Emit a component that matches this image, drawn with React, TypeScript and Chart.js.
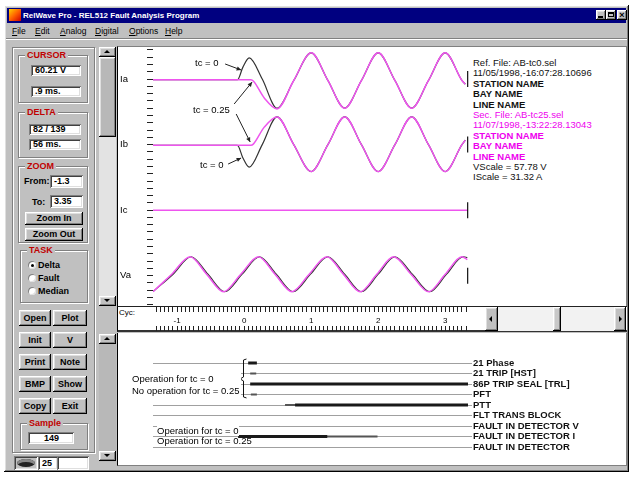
import React, { useEffect, useRef } from "react";
import { Chart, registerables } from "chart.js";

Chart.register(...registerables);

const FONT = '"Liberation Sans", Arial, sans-serif';

// ---------- time axis (cycles) ----------
const cycleMin = -1.36;
const cycleMax = 3.34;
const rulerStep = 0.0625;

// ---------- analog channels ----------
const channelNames = ["Ia", "Ib", "Ic", "Va"];
const channelLevels = [31, 22, 13, 4];
const analogMin = -0.3;
const analogMax = 35.4;

// Ia, reference file (tc = 0)
const iaRefT = [-1.36, -0.1, -0.02, 0.075, 0.27, 0.49, 0.74, 1.0, 1.25, 1.5, 1.75, 2.0, 2.25, 2.5, 2.75, 3.0, 3.25, 3.3];
const iaRefV = [30.9, 30.9, 32.6, 33.9, 31.0, 27.0, 30.8, 34.6, 30.8, 27.0, 30.8, 34.6, 30.8, 27.0, 30.8, 34.6, 30.8, 30.3];
// Ia, secondary file (tc = 0.25)
const iaSecT = [-1.36, 0.1, 0.14, 0.3, 0.49, 0.74, 1.0, 1.25, 1.5, 1.75, 2.0, 2.25, 2.5, 2.75, 3.0, 3.25, 3.3];
const iaSecV = [30.9, 30.9, 30.7, 28.4, 26.9, 30.8, 34.6, 30.8, 27.0, 30.8, 34.6, 30.8, 27.0, 30.8, 34.6, 30.8, 30.3];

// Ib
const ibRefT = [-1.36, -0.1, -0.02, 0.075, 0.27, 0.49, 0.74, 1.0, 1.25, 1.5, 1.75, 2.0, 2.25, 2.5, 2.75, 3.0, 3.25, 3.3];
const ibRefV = [21.9, 21.9, 20.2, 18.9, 22.0, 25.8, 22.0, 18.3, 22.0, 25.8, 22.0, 18.3, 22.0, 25.8, 22.0, 18.3, 22.0, 22.6];
const ibSecT = [-1.36, 0.1, 0.14, 0.3, 0.49, 0.74, 1.0, 1.25, 1.5, 1.75, 2.0, 2.25, 2.5, 2.75, 3.0, 3.25, 3.3];
const ibSecV = [21.9, 21.9, 22.1, 24.4, 25.8, 22.0, 18.3, 22.0, 25.8, 22.0, 18.3, 22.0, 25.8, 22.0, 18.3, 22.0, 22.6];

// Ic
const icT = [-1.36, 3.33];
const icV = [13.0, 13.0];

// Va
const vaRefT = [-1.36, -1.06, -0.79, -0.54, -0.29, -0.03, 0.23, 0.48, 0.73, 0.99, 1.25, 1.5, 1.75, 2.0, 2.25, 2.51, 2.77, 3.02, 3.27, 3.33];
const vaRefV = [1.8, 4.2, 6.6, 4.2, 1.8, 4.2, 6.6, 4.2, 1.8, 4.2, 6.6, 4.2, 1.8, 4.2, 6.6, 4.2, 1.8, 4.2, 6.6, 6.5];
const vaSecT = [-1.36, -1.08, -0.806, -0.56, -0.309, -0.05, 0.213, 0.46, 0.712, 0.97, 1.234, 1.48, 1.731, 1.98, 2.228, 2.49, 2.751, 3.0, 3.249, 3.33];
const vaSecV = [1.8, 4.2, 6.6, 4.2, 1.8, 4.2, 6.6, 4.2, 1.8, 4.2, 6.6, 4.2, 1.8, 4.2, 6.6, 4.2, 1.8, 4.2, 6.6, 6.2];

// end-of-record markers
const endMarkerT = [3.335, 3.335, 3.335, 3.335];

// annotation arrows (tail -> head) on the analog plot
const arrowTailT = [-0.284, -0.149, -0.119, -0.239];
const arrowTailV = [33.07, 27.57, 26.2, 19.33];
const arrowHeadT = [-0.045, 0.119, 0.09, -0.045];
const arrowHeadV = [32.24, 30.59, 22.36, 20.16];

// ---------- digital channels ----------
const digitalNames = [
  "21 Phase",
  "21 TRIP [HST]",
  "86P TRIP SEAL [TRL]",
  "PFT",
  "PTT",
  "FLT TRANS BLOCK",
  "FAULT IN DETECTOR V",
  "FAULT IN DETECTOR I",
  "FAULT IN DETECTOR",
];
const digitalLevels = [9, 8, 7, 6, 5, 4, 3, 2, 1];
const digitalMin = -0.714;
const digitalMax = 12.048;

// asserted intervals (thick trace)
const thickChannel = [0, 2, 4, 7];
const thickStart = [0.06, 0.09, 0.76, -0.09];
const thickEnd = [0.19, 3.34, 3.34, 1.24];
// asserted intervals (thin trace)
const thinChannel = [1, 3, 4, 7];
const thinStart = [0.09, 0.1, 0.61, -0.015];
const thinEnd = [0.18, 0.19, 3.34, 1.99];

// brace on digital plot
const braceT = [-0.01];
const braceTopV = [9.38];
const braceBottomV = [5.67];
const braceTipT = [-0.06];
const braceTipV = [7.48];

const PINK = "#ee55ee";
const DARK = "#333333";

const pts = (t: number[], v: number[]) => t.map((x, i) => ({ x, y: v[i] }));
const isWhole = (v: number) => Math.abs(v - Math.round(v)) < 1e-6;

const noPad = (s: any) => {
  s.paddingTop = 0;
  s.paddingBottom = 0;
  s.paddingLeft = 0;
  s.paddingRight = 0;
};

const arrowPlugin = {
  id: "arrowNotes",
  afterDatasetsDraw(chart: any) {
    const { ctx } = chart;
    const xs = chart.scales.x;
    const ys = chart.scales.y;
    ctx.save();
    ctx.strokeStyle = "#222";
    ctx.fillStyle = "#222";
    ctx.lineWidth = 1;
    for (let i = 0; i < arrowTailT.length; i++) {
      const x0 = xs.getPixelForValue(arrowTailT[i]);
      const y0 = ys.getPixelForValue(arrowTailV[i]);
      const x1 = xs.getPixelForValue(arrowHeadT[i]);
      const y1 = ys.getPixelForValue(arrowHeadV[i]);
      ctx.beginPath();
      ctx.moveTo(x0, y0);
      ctx.lineTo(x1, y1);
      ctx.stroke();
      const a = Math.atan2(y1 - y0, x1 - x0);
      const L = 5;
      ctx.beginPath();
      ctx.moveTo(x1, y1);
      ctx.lineTo(x1 - L * Math.cos(a - 0.45), y1 - L * Math.sin(a - 0.45));
      ctx.lineTo(x1 - L * Math.cos(a + 0.45), y1 - L * Math.sin(a + 0.45));
      ctx.closePath();
      ctx.fill();
    }
    ctx.restore();
  },
};

const bracePlugin = {
  id: "braceNote",
  afterDatasetsDraw(chart: any) {
    const { ctx } = chart;
    const xs = chart.scales.x;
    const ys = chart.scales.y;
    ctx.save();
    ctx.strokeStyle = "#111";
    ctx.lineWidth = 1;
    for (let i = 0; i < braceT.length; i++) {
      const x = Math.round(xs.getPixelForValue(braceT[i])) + 0.5;
      const yt = ys.getPixelForValue(braceTopV[i]);
      const yb = ys.getPixelForValue(braceBottomV[i]);
      const xt = xs.getPixelForValue(braceTipT[i]);
      const ym = ys.getPixelForValue(braceTipV[i]);
      ctx.beginPath();
      ctx.moveTo(x + 3, yt);
      ctx.lineTo(x, yt + 1);
      ctx.lineTo(x, ym - 2);
      ctx.lineTo(xt, ym);
      ctx.lineTo(x, ym + 2);
      ctx.lineTo(x, yb - 1);
      ctx.lineTo(x + 3, yb);
      ctx.stroke();
    }
    ctx.restore();
  },
};

const RAISED = "inset -1px -1px #000, inset 1px 1px #fff, inset -2px -2px #808080, inset 2px 2px #dfdfdf";
const SUNKEN = "inset 1px 1px #808080, inset -1px -1px #fff, inset 2px 2px #404040, inset -2px -2px #dfdfdf";

function Txt(props: any) {
  const { x, y, s = 9, w = 400, c = "#000", bg, children, style } = props;
  return (
    <div
      style={{
        position: "absolute",
        left: x,
        top: y - s * 0.49,
        fontSize: s,
        lineHeight: `${s}px`,
        fontWeight: w,
        color: c,
        whiteSpace: "nowrap",
        background: bg,
        ...style,
      }}
    >
      {children}
    </div>
  );
}

function Box(props: any) {
  const { x, y, w, h, style, children } = props;
  return (
    <div style={{ position: "absolute", left: x, top: y, width: w, height: h, boxSizing: "border-box", ...style }}>
      {children}
    </div>
  );
}

function Btn(props: any) {
  const { x, y, w, h, label } = props;
  return (
    <Box x={x} y={y} w={w} h={h} style={{ background: "#c0c0c0", boxShadow: RAISED, textAlign: "center", fontSize: 9, fontWeight: 700, lineHeight: `${h}px` }}>
      {label}
    </Box>
  );
}

function Field(props: any) {
  const { x, y, w, h, text, align = "left" } = props;
  return (
    <Box x={x} y={y} w={w} h={h} style={{ background: "#fff", boxShadow: SUNKEN, fontSize: 9, lineHeight: `${h}px`, paddingLeft: 4, paddingRight: 3, textAlign: align, fontWeight: 700 }}>
      {text}
    </Box>
  );
}

function Group(props: any) {
  const { x, y, w, h, title } = props;
  return (
    <Box x={x} y={y} w={w} h={h} style={{ border: "1px solid #808080", boxShadow: "inset 1px 1px #fff, 1px 1px #fff" }}>
      <div style={{ position: "absolute", left: 6, top: -6, background: "#c0c0c0", color: "#c00000", fontWeight: 700, fontSize: 9, lineHeight: "10px", padding: "0 2px" }}>
        {title}
      </div>
    </Box>
  );
}

function Tri(props: any) {
  const { dir, x, y } = props;
  const s = 3;
  const st: React.CSSProperties = { position: "absolute", left: x, top: y, width: 0, height: 0 };
  if (dir === "up") Object.assign(st, { borderLeft: `${s}px solid transparent`, borderRight: `${s}px solid transparent`, borderBottom: `${s}px solid #000` });
  if (dir === "down") Object.assign(st, { borderLeft: `${s}px solid transparent`, borderRight: `${s}px solid transparent`, borderTop: `${s}px solid #000` });
  if (dir === "left") Object.assign(st, { borderTop: `${s}px solid transparent`, borderBottom: `${s}px solid transparent`, borderRight: `${s}px solid #000` });
  if (dir === "right") Object.assign(st, { borderTop: `${s}px solid transparent`, borderBottom: `${s}px solid transparent`, borderLeft: `${s}px solid #000` });
  return <div style={st} />;
}

function Radio(props: any) {
  const { x, y, label, on } = props;
  return (
    <>
      <div style={{ position: "absolute", left: x, top: y - 4, width: 8, height: 8, borderRadius: 4, background: "#fff", boxShadow: "inset 1px 1px #808080, inset -1px -1px #dfdfdf", boxSizing: "border-box" }}>
        {on ? <div style={{ position: "absolute", left: 2.5, top: 2.5, width: 3, height: 3, borderRadius: 2, background: "#000" }} /> : null}
      </div>
      <Txt x={x + 10} y={y} s={9} w={700}>{label}</Txt>
    </>
  );
}

export default function App() {
  const c1 = useRef<HTMLCanvasElement>(null);
  const c2 = useRef<HTMLCanvasElement>(null);

  useEffect(() => {
    const tickFont = { family: FONT, size: 8 };
    const labelFont = { family: FONT, size: 9.5 };
    const line = (t: number[], v: number[], color: string, width: number, order: number) => ({
      data: pts(t, v),
      borderColor: color,
      borderWidth: width,
      pointRadius: 0,
      cubicInterpolationMode: "monotone" as const,
      order,
    });

    const chart1 = new Chart(c1.current as HTMLCanvasElement, {
      type: "line",
      data: {
        datasets: [
          line(iaSecT, iaSecV, PINK, 1.5, 0),
          line(iaRefT, iaRefV, DARK, 1.2, 1),
          line(ibSecT, ibSecV, PINK, 1.5, 0),
          line(ibRefT, ibRefV, DARK, 1.2, 1),
          line(icT, icV, PINK, 1.5, 0),
          line(vaSecT, vaSecV, PINK, 1.5, 0),
          line(vaRefT, vaRefV, DARK, 1.1, 1),
          {
            data: pts(endMarkerT, channelLevels),
            showLine: false,
            pointStyle: "line",
            pointRotation: 90,
            pointRadius: 8,
            pointBorderColor: "#111",
            pointBorderWidth: 1.2,
            borderColor: "#111",
            clip: 6,
            order: -1,
          } as any,
        ],
      },
      options: {
        animation: false,
        responsive: false,
        maintainAspectRatio: false,
        events: [],
        layout: { padding: { left: 2, right: 2, top: 0, bottom: 0 }, autoPadding: false } as any,
        plugins: { legend: { display: false }, tooltip: { enabled: false } },
        scales: {
          x: {
            type: "linear",
            position: "bottom",
            min: cycleMin,
            max: cycleMax,
            afterFit: (s: any) => {
              s.height = 24;
              noPad(s);
            },
            grid: { drawOnChartArea: false, drawTicks: true, tickLength: 5, tickColor: "#222", tickWidth: 1 },
            border: { display: false },
            ticks: {
              stepSize: rulerStep,
              autoSkip: false,
              maxRotation: 0,
              includeBounds: false,
              padding: 4,
              font: tickFont,
              color: "#000",
              callback: (v: any) => (isWhole(Number(v)) ? String(Math.round(Number(v))) : ""),
            },
          },
          y: {
            type: "linear",
            position: "left",
            min: analogMin,
            max: analogMax,
            afterFit: (s: any) => {
              s.width = 33;
              noPad(s);
            },
            grid: { drawOnChartArea: false, drawTicks: true, tickLength: 6, tickColor: "#222" },
            border: { display: false },
            ticks: {
              stepSize: 1,
              autoSkip: false,
              includeBounds: false,
              crossAlign: "far",
              font: labelFont,
              color: "#000",
              callback: (v: any) => {
                const idx = channelLevels.indexOf(Math.round(Number(v)));
                return idx >= 0 && isWhole(Number(v)) ? channelNames[idx] : "";
              },
            },
          },
        },
      } as any,
      plugins: [arrowPlugin],
    });

    const digitalSets: any[] = [];
    thinChannel.forEach((ch, i) => {
      digitalSets.push({
        data: [
          { x: thinStart[i], y: digitalLevels[ch] },
          { x: thinEnd[i], y: digitalLevels[ch] },
        ],
        borderColor: "#555",
        borderWidth: 2,
        pointRadius: 0,
        order: 1,
      });
    });
    thickChannel.forEach((ch, i) => {
      digitalSets.push({
        data: [
          { x: thickStart[i], y: digitalLevels[ch] },
          { x: thickEnd[i], y: digitalLevels[ch] },
        ],
        borderColor: "#1a1a1a",
        borderWidth: 3,
        pointRadius: 0,
        order: 0,
      });
    });

    const chart2 = new Chart(c2.current as HTMLCanvasElement, {
      type: "line",
      data: { datasets: digitalSets },
      options: {
        animation: false,
        responsive: false,
        maintainAspectRatio: false,
        events: [],
        layout: { padding: { left: 35, right: 0, top: 0, bottom: 0 }, autoPadding: false } as any,
        plugins: { legend: { display: false }, tooltip: { enabled: false } },
        scales: {
          x: {
            type: "linear",
            position: "top",
            min: cycleMin,
            max: cycleMax,
            afterFit: (s: any) => {
              s.height = 24;
              noPad(s);
            },
            grid: { drawOnChartArea: false, drawTicks: true, tickLength: 5, tickColor: "#222" },
            border: { display: false },
            ticks: {
              stepSize: rulerStep,
              autoSkip: false,
              maxRotation: 0,
              includeBounds: false,
              font: tickFont,
              callback: () => "",
            },
          },
          y: {
            type: "linear",
            position: "right",
            min: digitalMin,
            max: digitalMax,
            afterFit: (s: any) => {
              s.width = 158;
              noPad(s);
            },
            afterBuildTicks: (axis: any) => {
              axis.ticks = digitalLevels.map((v) => ({ value: v }));
            },
            grid: { drawOnChartArea: true, color: "#a0a0a0", lineWidth: 1, tickLength: 4, tickColor: "#a0a0a0" },
            border: { display: false },
            ticks: {
              autoSkip: false,
              padding: 1,
              font: { family: FONT, size: 9.5, weight: "bold" },
              color: "#111",
              callback: (v: any) => {
                const idx = digitalLevels.indexOf(Math.round(Number(v)));
                return idx >= 0 ? digitalNames[idx] : "";
              },
            },
          },
        },
      } as any,
      plugins: [bracePlugin],
    });

    return () => {
      chart1.destroy();
      chart2.destroy();
    };
  }, []);

  const menu = [
    ["File", 12],
    ["Edit", 35],
    ["Analog", 60],
    ["Digital", 95],
    ["Options", 129],
    ["Help", 165],
  ] as [string, number][];

  const info: [string, string][] = [
    ["Ref. File: AB-tc0.sel", "#111"],
    ["11/05/1998,-16:07:28.10696", "#111"],
    ["STATION NAME", "#111"],
    ["BAY NAME", "#111"],
    ["LINE NAME", "#111"],
    ["Sec. File: AB-tc25.sel", "#ee00ee"],
    ["11/07/1998,-13:22:28.13043", "#ee00ee"],
    ["STATION NAME", "#ee00ee"],
    ["BAY NAME", "#ee00ee"],
    ["LINE NAME", "#ee00ee"],
    ["VScale =  57.78 V", "#111"],
    ["IScale =  31.32 A", "#111"],
  ];

  return (
    <div style={{ position: "fixed", left: 0, top: 0, width: 632, height: 481, background: "#fff", overflow: "hidden", fontFamily: FONT, color: "#000" }}>
      {/* window */}
      <Box x={4} y={5} w={625} h={467} style={{ background: "#c0c0c0", boxShadow: RAISED }} />
      {/* title bar */}
      <Box x={7} y={8} w={619} h={15} style={{ background: "#000080" }} />
      <Box x={9} y={9} w={12} h={12} style={{ background: "linear-gradient(135deg,#ffd000 0%,#ff6000 50%,#d00000 100%)" }} />
      <Txt x={23} y={15.5} s={8} w={700} c="#fff">RelWave Pro - REL512 Fault Analysis Program</Txt>
      <Box x={596} y={10} w={10} h={10} style={{ background: "#c0c0c0", boxShadow: RAISED }}>
        <div style={{ position: "absolute", left: 2, top: 6, width: 5, height: 2, background: "#000" }} />
      </Box>
      <Box x={606} y={10} w={10} h={10} style={{ background: "#c0c0c0", boxShadow: RAISED }}>
        <div style={{ position: "absolute", left: 2, top: 2, width: 6, height: 5, border: "1px solid #000", borderTopWidth: 2, boxSizing: "border-box" }} />
      </Box>
      <Box x={617} y={10} w={10} h={10} style={{ background: "#c0c0c0", boxShadow: RAISED, fontSize: 9, fontWeight: 700, lineHeight: "10px", textAlign: "center" }}>
        ×
      </Box>
      {/* menu */}
      {menu.map(([m, x]) => (
        <Txt key={m} x={x} y={31} s={8.5}>
          <span style={{ textDecoration: "underline" }}>{m[0]}</span>
          {m.slice(1)}
        </Txt>
      ))}
      <Box x={6} y={38} w={621} h={2} style={{ borderTop: "1px solid #808080", borderBottom: "1px solid #fff" }} />

      {/* left panel */}
      <Box x={12} y={47} w={83} h={406} style={{ border: "1px solid #808080", boxShadow: "inset 1px 1px #fff, 1px 1px #fff" }} />
      <Group x={18} y={55} w={70} h={48} title="CURSOR" />
      <Field x={31} y={65} w={50} h={11} text="60.21 V" />
      <Field x={31} y={86} w={50} h={11} text=".9 ms." />
      <Group x={18} y={112} w={70} h={46} title="DELTA" />
      <Field x={29} y={124} w={52} h={11} text="82 / 139" />
      <Field x={29} y={139} w={52} h={11} text="56 ms." />
      <Group x={18} y={166} w={70} h={77} title="ZOOM" />
      <Txt x={24} y={181} s={9} w={700}>From:</Txt>
      <Field x={50} y={175} w={33} h={13} text="-1.3" />
      <Txt x={32} y={202} s={9} w={700}>To:</Txt>
      <Field x={50} y={195} w={33} h={13} text="3.35" />
      <Btn x={25} y={212} w={58} h={13} label="Zoom In" />
      <Btn x={25} y={228} w={58} h={13} label="Zoom Out" />
      <Group x={20} y={250} w={68} h={53} title="TASK" />
      <Radio x={28} y={265} label="Delta" on />
      <Radio x={28} y={278} label="Fault" />
      <Radio x={28} y={291} label="Median" />
      <Btn x={19} y={310} w={32} h={16} label="Open" />
      <Btn x={53} y={310} w={34} h={16} label="Plot" />
      <Btn x={19} y={332} w={32} h={16} label="Init" />
      <Btn x={53} y={332} w={34} h={16} label="V" />
      <Btn x={19} y={354} w={32} h={16} label="Print" />
      <Btn x={53} y={354} w={34} h={16} label="Note" />
      <Btn x={19} y={376} w={32} h={16} label="BMP" />
      <Btn x={53} y={376} w={34} h={16} label="Show" />
      <Btn x={19} y={398} w={32} h={16} label="Copy" />
      <Btn x={53} y={398} w={34} h={16} label="Exit" />
      <Group x={20} y={423} w={68} h={27} title="Sample" />
      <Field x={28} y={432} w={46} h={12} text="149" align="center" />
      {/* status */}
      <Box x={14} y={456} w={24} h={14} style={{ boxShadow: SUNKEN, background: "#c0c0c0" }}>
        <div style={{ position: "absolute", left: 3, top: 3, width: 18, height: 8, borderRadius: "50%", background: "#222", boxShadow: "inset 0 3px 0 #888" }} />
      </Box>
      <Field x={38} y={456} w={20} h={14} text="25" />
      <Field x={57} y={456} w={32} h={14} text="" />

      {/* upper scrollbar */}
      <Box x={99} y={47} w={17} h={259} style={{ background: "#e3e3e3" }} />
      <Box x={99} y={47} w={17} h={10} style={{ background: "#c0c0c0", boxShadow: RAISED }}>
        <Tri dir="up" x={5} y={3} />
      </Box>
      <Box x={99} y={57} w={17} h={80} style={{ background: "#b8b8b8", boxShadow: RAISED }} />
      <Box x={99} y={296} w={17} h={10} style={{ background: "#c0c0c0", boxShadow: RAISED }}>
        <Tri dir="down" x={5} y={3} />
      </Box>

      {/* plot panel */}
      <Box x={117} y={46} w={510} h={261} style={{ background: "#fff", borderLeft: "1px solid #000", borderTop: "1px solid #808080", borderRight: "1px solid #808080" }} />
      {/* ruler */}
      <Box x={117} y={306} w={510} h={26} style={{ background: "#fff", borderTop: "1px solid #222", borderBottom: "2px solid #333", borderLeft: "1px solid #000" }} />
      <Txt x={119} y={313} s={8}>Cyc:</Txt>
      <Box x={485} y={307} w={141} h={24} style={{ background: "#f2f2f2" }} />
      <Box x={485} y={307} w={13} h={24} style={{ background: "#c0c0c0", boxShadow: RAISED }}>
        <Tri dir="left" x={4} y={9} />
      </Box>
      <Box x={553} y={307} w={8} h={24} style={{ background: "#c8c8c8", boxShadow: RAISED }} />
      <Box x={614} y={307} w={12} h={24} style={{ background: "#c0c0c0", boxShadow: RAISED }}>
        <Tri dir="right" x={5} y={9} />
      </Box>

      {/* digital panel */}
      <Box x={117} y={333} w={510} h={133} style={{ background: "#fff", borderLeft: "1px solid #000", borderRight: "1px solid #808080", borderBottom: "1px solid #808080" }} />
      <Box x={99} y={334} w={17} h={128} style={{ background: "#b8b8b8" }} />
      <Box x={99} y={334} w={17} h={10} style={{ background: "#c0c0c0", boxShadow: RAISED }}>
        <Tri dir="up" x={5} y={3} />
      </Box>
      <Box x={99} y={451} w={17} h={10} style={{ background: "#c0c0c0", boxShadow: RAISED }}>
        <Tri dir="down" x={5} y={3} />
      </Box>

      {/* canvases */}
      <canvas ref={c1} width={352} height={284} style={{ position: "absolute", left: 118, top: 47, width: 352, height: 284 }} />
      <canvas ref={c2} width={508} height={158} style={{ position: "absolute", left: 118, top: 307, width: 508, height: 158 }} />

      {/* analog annotations */}
      <Txt x={195} y={63} s={9.5}>tc = 0</Txt>
      <Txt x={193} y={110} s={9.5}>tc = 0.25</Txt>
      <Txt x={200} y={165} s={9.5}>tc = 0</Txt>

      {/* info block */}
      {info.map(([t, c], i) => (
        <Txt key={i} x={473} y={62.7 + i * 10.4} s={9.5} w={i === 0 || i === 1 || i === 5 || i === 6 || i >= 10 ? 400 : 700} c={c}>
          {t}
        </Txt>
      ))}

      {/* digital annotations */}
      <Box x={129} y={373} w={112} h={24} style={{ background: "#fff" }} />
      <Txt x={132} y={379} s={9.5}>Operation for tc = 0</Txt>
      <Txt x={132} y={391} s={9.5}>No operation for tc = 0.25</Txt>
      <Txt x={157} y={431} s={9.5} bg="#fff">Operation for tc = 0</Txt>
      <Txt x={157} y={441} s={9.5}>Operation for tc = 0.25</Txt>
    </div>
  );
}
